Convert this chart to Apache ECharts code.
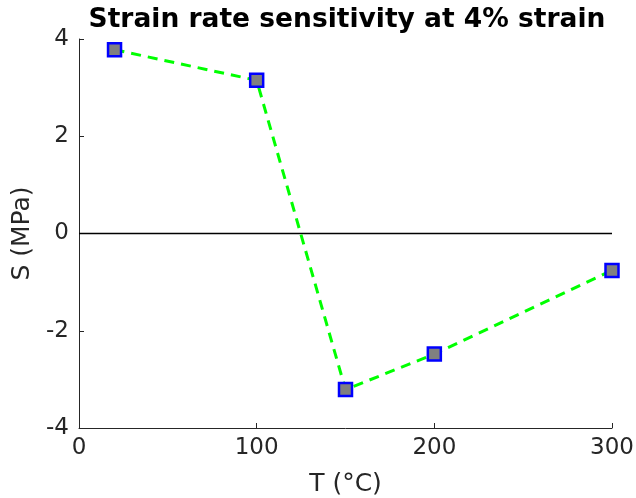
<!DOCTYPE html>
<html>
<head>
<meta charset="utf-8">
<script src="https://cdn.jsdelivr.net/npm/echarts@6/dist/echarts.min.js"></script>
<style>
html,body{margin:0;padding:0;background:#fff;}
#chart{width:636px;height:498px;}
</style>
</head>
<body>
<div id="chart"></div>
<script>
// Temperatures (°C) and strain rate sensitivity S (MPa) at 4% strain
const temperatures = [20, 100, 150, 200, 300];
const sensitivity = [3.78, 3.15, -3.21, -2.48, -0.76];
const xTicks = [0, 100, 200, 300];
const yTicks = [-4, -2, 0, 2, 4];

const chart = echarts.init(document.getElementById('chart'), null, {renderer: 'canvas'});
const font = 'DejaVu Sans';
const axisGrey = '#262626';

chart.setOption({
  backgroundColor: '#ffffff',
  animation: false,
  title: {
    text: 'Strain rate sensitivity at 4% strain',
    left: 342, top: 2, textAlign: 'center',
    textStyle: {fontFamily: font, fontWeight: 'bold', fontSize: 26.5, color: '#000'}
  },
  grid: {left: 79, right: 24, top: 39, bottom: 70, containLabel: false, outerBoundsMode: 'none'},
  xAxis: {
    type: 'value', min: xTicks[0], max: xTicks[xTicks.length - 1], interval: 100,
    name: 'T (°C)', nameLocation: 'middle', nameGap: 44,
    nameTextStyle: {fontFamily: font, fontSize: 25, color: axisGrey},
    axisLine: {onZero: false, lineStyle: {color: axisGrey, width: 1}},
    axisTick: {inside: true, length: 5, lineStyle: {color: axisGrey}},
    axisLabel: {fontFamily: font, fontSize: 23, color: axisGrey, margin: 9},
    splitLine: {show: false}
  },
  yAxis: {
    type: 'value', min: yTicks[0], max: yTicks[yTicks.length - 1], interval: 2,
    name: 'S (MPa)', nameLocation: 'middle', nameGap: 39,
    nameTextStyle: {fontFamily: font, fontSize: 25, color: axisGrey},
    axisLine: {show: true, onZero: false, lineStyle: {color: axisGrey, width: 1}},
    axisTick: {show: true, inside: true, length: 5, lineStyle: {color: axisGrey}},
    axisLabel: {fontFamily: font, fontSize: 23, color: axisGrey, margin: 10},
    splitLine: {show: false}
  },
  series: [{
    type: 'line',
    data: temperatures.map((t, i) => [t, sensitivity[i]]),
    symbol: 'rect', symbolSize: 13,
    lineStyle: {color: '#00ff00', width: 3, type: [10, 7]},
    itemStyle: {color: '#808080', borderColor: '#0000ff', borderWidth: 2.5},
    z: 3,
    markLine: {
      silent: true, symbol: 'none', label: {show: false},
      lineStyle: {color: '#000', width: 1.3, type: 'solid'},
      data: [{yAxis: 0}],
      z: 1
    }
  }]
});
</script>
</body>
</html>
